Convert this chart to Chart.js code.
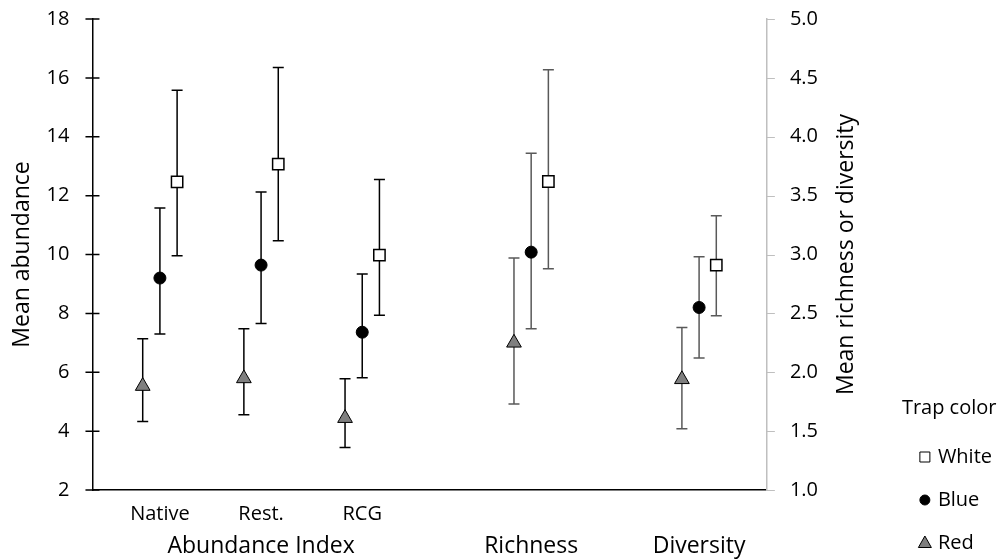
<!DOCTYPE html>
<html>
<head>
<meta charset="utf-8">
<title>Mean abundance, richness and diversity by trap color</title>
<script src="https://cdn.jsdelivr.net/npm/chart.js@4.4.1/dist/chart.umd.min.js"></script>
<style>
  html, body { margin: 0; padding: 0; background: #fff; }
  #wrap { width: 1005px; height: 559px; }
</style>
</head>
<body>
<div id="wrap"><canvas id="chart"></canvas></div>
<script>
// categories along x (in category units; the last two sit on the right axis)
const categories = ['Native', 'Rest.', 'RCG', 'Richness', 'Diversity'];
const catX = [1, 2, 3, 4.67, 6.33];
const groups = ['Abundance Index', 'Richness', 'Diversity'];
const groupX = [2, 4.67, 6.33];
const nAbundance = 3; // Native, Rest., RCG -> left axis

const leftTicks = [2, 4, 6, 8, 10, 12, 14, 16, 18];
const rightTicks = [1.0, 1.5, 2.0, 2.5, 3.0, 3.5, 4.0, 4.5, 5.0];

// means and error bar ends
const whiteMean = [12.47, 13.07, 9.98, 3.62, 2.91];
const whiteLo   = [9.96, 10.47, 7.94, 2.88, 2.48];
const whiteHi   = [15.58, 16.35, 12.55, 4.57, 3.33];

const blueMean  = [9.20, 9.64, 7.36, 3.02, 2.55];
const blueLo    = [7.30, 7.66, 5.81, 2.37, 2.12];
const blueHi    = [11.58, 12.12, 9.34, 3.86, 2.98];

const redMean   = [5.53, 5.79, 4.44, 2.25, 1.94];
const redLo     = [4.33, 4.56, 3.44, 1.73, 1.52];
const redHi     = [7.14, 7.48, 5.78, 2.97, 2.38];

const DODGE = 0.17;
const FONT = '"Open Sans", sans-serif';

const series = [
  { name: 'White', mean: whiteMean, lo: whiteLo, hi: whiteHi, shift: 1,  style: 'rect',     fill: '#ffffff', radius: 8,   border: 1.5 },
  { name: 'Blue',  mean: blueMean,  lo: blueLo,  hi: blueHi,  shift: 0,  style: 'circle',   fill: '#000000', radius: 6,   border: 1 },
  { name: 'Red',   mean: redMean,   lo: redLo,   hi: redHi,   shift: -1, style: 'triangle', fill: '#7f7f7f', radius: 8.5, border: 1 },
];

function points(s, from, to) {
  const out = [];
  for (let i = from; i < to; i++) {
    out.push({ x: catX[i] + s.shift * DODGE, y: s.mean[i], lo: s.lo[i], hi: s.hi[i] });
  }
  return out;
}

const datasets = [];
series.forEach(s => {
  const common = {
    label: s.name,
    showLine: false,
    pointStyle: s.style,
    pointRadius: s.radius,
    pointHoverRadius: s.radius,
    pointBackgroundColor: s.fill,
    pointBorderColor: '#000',
    pointBorderWidth: s.border,
  };
  datasets.push({ ...common, data: points(s, 0, nAbundance), yAxisID: 'y', barColor: '#000000' });
  datasets.push({ ...common, data: points(s, nAbundance, categories.length), yAxisID: 'y2', barColor: '#595959' });
});

// error bars drawn under the markers
const errorBars = {
  id: 'errorBars',
  beforeDatasetsDraw(chart) {
    const ctx = chart.ctx;
    const xs = chart.scales.x;
    chart.data.datasets.forEach(ds => {
      const ys = chart.scales[ds.yAxisID];
      ctx.save();
      ctx.strokeStyle = ds.barColor;
      ctx.lineWidth = 1.5;
      ds.data.forEach(p => {
        const px = xs.getPixelForValue(p.x);
        const top = ys.getPixelForValue(p.hi);
        const bot = ys.getPixelForValue(p.lo);
        ctx.beginPath();
        ctx.moveTo(px, top); ctx.lineTo(px, bot);
        ctx.moveTo(px - 5.5, top); ctx.lineTo(px + 5.5, top);
        ctx.moveTo(px - 5.5, bot); ctx.lineTo(px + 5.5, bot);
        ctx.stroke();
      });
      ctx.restore();
    });
  }
};

// Excel-style tick marks: crossing on the left axis, short outside ones on the right
const tickMarks = {
  id: 'tickMarks',
  afterDraw(chart) {
    const ctx = chart.ctx;
    const y = chart.scales.y, y2 = chart.scales.y2;
    ctx.save();
    ctx.lineWidth = 1.5;
    ctx.strokeStyle = '#000';
    ctx.beginPath();
    y.ticks.forEach(t => {
      const py = y.getPixelForValue(t.value);
      ctx.moveTo(y.right - 7, py); ctx.lineTo(y.right + 7, py);
    });
    ctx.stroke();
    ctx.lineWidth = 1;
    ctx.strokeStyle = '#bfbfbf';
    ctx.beginPath();
    y2.ticks.forEach(t => {
      const py = Math.round(y2.getPixelForValue(t.value)) + 0.5;
      ctx.moveTo(y2.left, py); ctx.lineTo(y2.left + 8, py);
    });
    ctx.stroke();
    ctx.restore();
  }
};

// right axis title reads bottom-to-top like the left one, plus the "Trap color" legend
const extras = {
  id: 'extras',
  afterDraw(chart) {
    const ctx = chart.ctx;
    const area = chart.chartArea;
    const y2 = chart.scales.y2;

    ctx.save();
    ctx.fillStyle = '#000';
    ctx.font = '23px ' + FONT;
    ctx.textAlign = 'center';
    ctx.textBaseline = 'middle';
    ctx.translate(y2.left + 80, (area.top + area.bottom) / 2);
    ctx.rotate(-Math.PI / 2);
    ctx.fillText('Mean richness or diversity', 0, 0);
    ctx.restore();

    ctx.save();
    ctx.fillStyle = '#000';
    ctx.font = '20px ' + FONT;
    ctx.textAlign = 'left';
    ctx.textBaseline = 'middle';
    ctx.fillText('Trap color', area.right + 135, area.bottom - 82);
    const mx = area.right + 158;
    series.forEach((s, i) => {
      const my = area.bottom - 33 + i * 43;
      ctx.beginPath();
      if (s.style === 'rect') {
        ctx.rect(mx - 5, my - 5, 10, 10);
      } else if (s.style === 'circle') {
        ctx.arc(mx, my, 5, 0, Math.PI * 2);
      } else {
        ctx.moveTo(mx, my - 7);
        ctx.lineTo(mx + 6.5, my + 4.5);
        ctx.lineTo(mx - 6.5, my + 4.5);
        ctx.closePath();
      }
      ctx.fillStyle = s.fill;
      ctx.fill();
      ctx.lineWidth = 1;
      ctx.strokeStyle = '#000';
      ctx.stroke();
      ctx.fillStyle = '#000';
      ctx.fillText(s.name, mx + 13, my);
    });
    ctx.restore();
  }
};

Chart.defaults.font.family = FONT;
Chart.defaults.color = '#000';

new Chart(document.getElementById('chart'), {
  type: 'scatter',
  data: { datasets },
  plugins: [errorBars, tickMarks, extras],
  options: {
    responsive: true,
    maintainAspectRatio: false,
    animation: false,
    layout: { padding: { top: 0, right: 134, left: 5, bottom: 0 } },
    plugins: { legend: { display: false }, tooltip: { enabled: false } },
    scales: {
      x: {
        type: 'linear',
        position: 'bottom',
        min: 1 / 3,
        max: 7,
        weight: 0,
        afterBuildTicks: (axis) => { axis.ticks = catX.slice(0, nAbundance).map(v => ({ value: v })); },
        afterFit: (axis) => { axis.height = 41; },
        ticks: {
          font: { size: 20 },
          padding: 12,
          maxRotation: 0,
          autoSkip: false,
          callback: (v) => categories[catX.indexOf(v)] ?? '',
        },
        grid: { display: false, drawTicks: false },
        border: { display: true, color: '#000', width: 1.5 },
      },
      xg: {
        type: 'linear',
        position: 'bottom',
        min: 1 / 3,
        max: 7,
        weight: 1,
        afterBuildTicks: (axis) => { axis.ticks = groupX.map(v => ({ value: v })); },
        afterFit: (axis) => { axis.height = 28; },
        ticks: {
          font: { size: 23 },
          padding: 2,
          maxRotation: 0,
          autoSkip: false,
          callback: (v) => groups[groupX.indexOf(v)] ?? '',
        },
        grid: { display: false, drawTicks: false },
        border: { display: false },
      },
      y: {
        position: 'left',
        min: 2,
        max: 18,
        afterBuildTicks: (axis) => { axis.ticks = leftTicks.map(v => ({ value: v })); },
        ticks: { font: { size: 20 }, padding: 7 },
        grid: { drawOnChartArea: false, tickLength: 16, tickColor: 'rgba(0,0,0,0)' },
        border: { color: '#000', width: 1.5 },
        title: {
          display: true,
          text: 'Mean abundance',
          font: { size: 23 },
          padding: { top: 4, bottom: 3 },
        },
      },
      y2: {
        position: 'right',
        min: 1,
        max: 5,
        afterBuildTicks: (axis) => { axis.ticks = rightTicks.map(v => ({ value: v })); },
        afterFit: (axis) => { axis.width += 46; },
        ticks: { font: { size: 20 }, padding: 7, callback: (v) => Number(v).toFixed(1) },
        grid: { drawOnChartArea: false, tickLength: 16, tickColor: 'rgba(0,0,0,0)' },
        border: { color: '#bfbfbf', width: 1.5 },
      },
    },
  },
});
</script>
</body>
</html>
